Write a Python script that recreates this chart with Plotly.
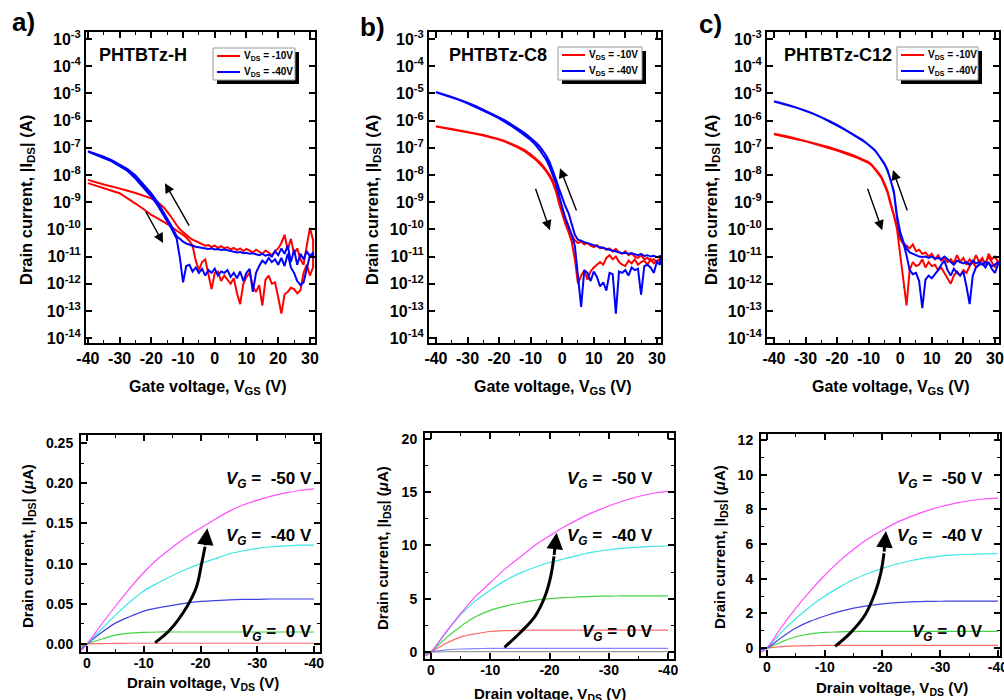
import plotly.graph_objects as go

FONT = "Liberation Sans"
W, H = 1004, 700

# ---- transfer curves (top row): gate voltage grid and log10 |I_DS| (A) ----
vgs = [-40, -37.5, -35, -32.5, -30, -27.5, -25, -22.5, -20, -18, -16, -14,
       -12, -11, -10, -9, -8, -7, -6, -5, -4, -3, -2, -1,
       0, 1, 2, 3, 4, 5, 6, 7, 8, 9, 10, 11, 12, 13, 14, 15,
       16, 17, 18, 19, 20, 21, 22, 23, 24, 25, 26, 27, 28, 29, 30, 31]

# PHTBTz-H
h_red_fwd = [-8.30, -8.40, -8.50, -8.58, -8.67, -8.85, -9.05, -9.25, -9.47, -9.60, -9.72, -9.87,
             -10.05, -10.12, -10.20, -10.30, -10.42, -10.60, -11.15, -11.50, -11.20, -11.10, -11.70, -12.20,
             -11.60, -11.55, -11.90, -11.70, -11.85, -12.00, -11.80, -12.35, -12.75, -12.00, -11.75, -11.60, -12.10, -12.30, -12.05, -12.80,
             -11.85, -11.70, -12.00, -11.95, -12.50, -13.10, -12.40, -12.30, -12.15, -12.20, -12.35, -12.25, -11.60, -11.30, -11.70, -11.40]
h_red_rev = [-8.18, -8.27, -8.35, -8.42, -8.49, -8.58, -8.66, -8.75, -8.86, -9.00, -9.20, -9.50,
             -9.85, -10.00, -10.10, -10.20, -10.30, -10.38, -10.45, -10.50, -10.55, -10.60, -10.58, -10.65,
             -10.60, -10.68, -10.62, -10.70, -10.65, -10.74, -10.68, -10.76, -10.70, -10.80, -10.72, -10.78, -10.85, -10.75, -10.82, -10.90,
             -10.78, -10.85, -10.95, -10.80, -10.70, -10.50, -10.20, -10.75, -10.35, -10.90, -10.70, -11.10, -11.30, -10.60, -9.95, -10.40]
h_blue_fwd = [-7.14, -7.25, -7.38, -7.50, -7.66, -7.85, -8.13, -8.45, -8.80, -9.12, -9.50, -9.90,
              -10.35, -11.05, -11.95, -11.35, -11.30, -11.55, -11.40, -11.60, -11.45, -11.70, -11.50, -11.60,
              -11.45, -11.70, -11.55, -11.60, -11.50, -11.75, -11.60, -11.80, -11.55, -11.90, -11.60, -11.45, -12.30, -11.60, -11.35, -11.15,
              -11.25, -11.05, -11.20, -11.10, -11.30, -11.05, -11.35, -10.90, -11.40, -11.60, -11.90, -12.05, -11.95, -11.40, -10.95, -11.05]
h_blue_rev = [-7.12, -7.22, -7.33, -7.45, -7.60, -7.78, -8.02, -8.33, -8.68, -9.00, -9.38, -9.80,
              -10.25, -10.35, -10.45, -10.52, -10.57, -10.60, -10.64, -10.66, -10.70, -10.70, -10.72, -10.70,
              -10.74, -10.72, -10.76, -10.74, -10.78, -10.80, -10.82, -10.85, -10.83, -10.88, -10.86, -10.90, -10.88, -10.92, -10.95, -10.90,
              -10.97, -10.93, -11.00, -10.80, -10.95, -10.70, -10.90, -10.60, -11.20, -10.75, -11.30, -10.90, -11.10, -10.80, -11.00, -10.85]

# PHTBTz-C8
c8_red_fwd = [-6.22, -6.27, -6.32, -6.37, -6.42, -6.48, -6.55, -6.62, -6.70, -6.78, -6.88, -6.99,
              -7.12, -7.20, -7.29, -7.38, -7.48, -7.60, -7.73, -7.88, -8.05, -8.28, -8.60, -9.05,
              -9.45, -9.80, -10.10, -10.45, -11.10, -12.00, -11.70, -11.50, -11.85, -11.55, -11.40, -11.30, -11.20, -11.30, -11.05, -10.95,
              -11.10, -11.00, -11.20, -11.30, -11.35, -11.15, -11.25, -11.10, -11.30, -11.20, -11.15, -11.30, -11.10, -11.25, -11.15, -11.10]
c8_red_rev = [-6.21, -6.26, -6.31, -6.36, -6.41, -6.47, -6.53, -6.60, -6.68, -6.76, -6.85, -6.96,
              -7.08, -7.16, -7.24, -7.33, -7.43, -7.54, -7.67, -7.82, -8.00, -8.20, -8.48, -8.85,
              -9.25, -9.60, -9.90, -10.20, -10.40, -10.50, -10.45, -10.55, -10.50, -10.60, -10.65, -10.58, -10.70, -10.66, -10.75, -10.70,
              -10.82, -10.72, -10.85, -10.90, -10.80, -10.95, -10.88, -11.00, -11.05, -10.95, -11.10, -11.05, -11.15, -11.10, -11.20, -11.10]
c8_blue_fwd = [-4.96, -5.05, -5.14, -5.24, -5.36, -5.49, -5.63, -5.77, -5.92, -6.05, -6.20, -6.36,
               -6.53, -6.62, -6.71, -6.82, -6.95, -7.10, -7.28, -7.45, -7.70, -8.00, -8.30, -8.75,
               -9.20, -9.60, -9.90, -10.20, -10.60, -11.80, -12.85, -11.50, -11.60, -11.90, -11.55, -11.75, -12.10, -11.95, -12.25, -11.60,
               -11.65, -13.10, -11.55, -11.60, -11.50, -11.70, -11.40, -11.50, -11.45, -12.40, -11.35, -11.30, -11.40, -11.60, -11.20, -11.30]
c8_blue_rev = [-4.95, -5.04, -5.13, -5.23, -5.34, -5.46, -5.59, -5.73, -5.88, -6.00, -6.14, -6.29,
               -6.45, -6.54, -6.63, -6.73, -6.84, -6.97, -7.12, -7.30, -7.52, -7.80, -8.15, -8.50,
               -8.85, -9.15, -9.40, -9.75, -10.20, -10.38, -10.42, -10.47, -10.50, -10.55, -10.58, -10.62, -10.65, -10.70, -10.72, -10.76,
               -10.78, -10.82, -10.85, -10.88, -10.86, -10.90, -10.88, -10.92, -10.95, -10.90, -10.98, -10.95, -11.00, -10.97, -11.02, -10.98]

# PHTBTz-C12
c12_red_fwd = [-6.50, -6.56, -6.62, -6.69, -6.76, -6.84, -6.92, -7.00, -7.10, -7.18, -7.26, -7.35,
               -7.45, -7.50, -7.56, -7.65, -7.78, -7.94, -8.10, -8.35, -8.65, -9.10, -9.50, -10.00,
               -10.90, -11.70, -12.80, -11.50, -11.20, -11.35, -11.30, -11.10, -11.40, -11.20, -11.35, -11.30, -11.50, -11.40, -11.60, -11.75,
               -12.00, -11.70, -11.55, -11.70, -11.50, -11.60, -11.35, -11.20, -11.40, -11.30, -11.10, -11.25, -11.00, -11.20, -11.40, -11.15]
c12_red_rev = [-6.48, -6.54, -6.60, -6.67, -6.74, -6.82, -6.90, -6.98, -7.07, -7.15, -7.23, -7.32,
               -7.42, -7.47, -7.53, -7.62, -7.74, -7.90, -8.06, -8.30, -8.60, -9.02, -9.42, -9.90,
               -10.35, -10.55, -10.60, -10.70, -10.55, -10.80, -10.75, -10.90, -10.85, -11.00, -10.90, -11.10, -10.95, -11.15, -11.05, -11.20,
               -11.10, -11.25, -10.95, -11.20, -11.05, -11.30, -11.10, -11.25, -10.95, -11.20, -11.05, -11.30, -10.90, -11.10, -11.00, -11.20]
c12_blue_fwd = [-5.30, -5.37, -5.45, -5.54, -5.64, -5.75, -5.88, -6.02, -6.17, -6.30, -6.44, -6.58,
                -6.72, -6.80, -6.90, -7.00, -7.10, -7.25, -7.42, -7.60, -7.85, -8.20, -8.65, -9.60,
                -10.20, -10.50, -10.95, -11.50, -11.65, -11.60, -11.90, -12.90, -11.85, -11.70, -11.80, -11.65, -11.50, -11.30, -11.15, -11.50,
                -11.70, -11.45, -11.60, -11.70, -11.55, -12.10, -12.75, -11.70, -11.40, -11.30, -11.25, -11.40, -11.20, -11.45, -11.60, -11.30]
c12_blue_rev = [-5.29, -5.36, -5.44, -5.53, -5.63, -5.74, -5.87, -6.01, -6.16, -6.29, -6.43, -6.57,
                -6.71, -6.79, -6.89, -6.99, -7.09, -7.24, -7.41, -7.58, -7.82, -8.16, -8.60, -9.50,
                -10.10, -10.45, -10.70, -10.85, -10.90, -10.95, -11.00, -11.02, -11.00, -11.05, -11.00, -11.08, -11.05, -11.10, -11.00, -11.10,
                -11.20, -11.30, -11.15, -11.20, -11.25, -11.20, -11.30, -11.15, -11.25, -11.20, -11.30, -11.20, -11.25, -11.35, -11.30, -11.20]

# ---- output curves (bottom row): drain voltage grid and |I_DS| (uA) ----
vds = [1, 0, -2.5, -5, -7.5, -10, -12.5, -15, -17.5, -20, -22.5, -25, -27.5, -30, -32.5, -35, -37.5, -40]

h_out = {
    "red": [-0.002, 0, 0.0005, 0.0008, 0.001, 0.001, 0.001, 0.001, 0.001, 0.001, 0.001, 0.001, 0.001, 0.001, 0.001, 0.001, 0.001, 0.001],
    "green": [-0.004, 0, 0.006, 0.011, 0.0135, 0.0145, 0.015, 0.015, 0.015, 0.015, 0.015, 0.015, 0.015, 0.015, 0.015, 0.015, 0.015, 0.015],
    "blue": [-0.006, 0, 0.014, 0.026, 0.034, 0.041, 0.045, 0.048, 0.051, 0.053, 0.054, 0.055, 0.0555, 0.0555, 0.056, 0.056, 0.056, 0.056],
    "cyan": [-0.007, 0, 0.018, 0.036, 0.052, 0.066, 0.076, 0.085, 0.093, 0.100, 0.106, 0.112, 0.116, 0.119, 0.121, 0.122, 0.123, 0.123],
    "magenta": [-0.008, 0, 0.024, 0.047, 0.069, 0.089, 0.106, 0.120, 0.133, 0.144, 0.155, 0.165, 0.173, 0.179, 0.184, 0.188, 0.191, 0.193],
}
c8_out = {
    "gray": [-0.02, 0, 0.02, 0.03, 0.03, 0.03, 0.03, 0.03, 0.03, 0.03, 0.03, 0.03, 0.03, 0.03, 0.03, 0.03, 0.03, 0.03],
    "lightblue": [-0.05, 0, 0.20, 0.28, 0.32, 0.33, 0.34, 0.34, 0.34, 0.34, 0.34, 0.34, 0.34, 0.34, 0.34, 0.34, 0.34, 0.34],
    "red": [-0.1, 0, 0.8, 1.4, 1.7, 1.92, 2.0, 2.03, 2.05, 2.05, 2.05, 2.05, 2.05, 2.05, 2.05, 2.05, 2.05, 2.05],
    "green": [-0.2, 0, 1.3, 2.4, 3.3, 3.9, 4.3, 4.6, 4.85, 5.0, 5.1, 5.17, 5.22, 5.25, 5.26, 5.27, 5.27, 5.27],
    "cyan": [-0.3, 0, 1.8, 3.5, 4.8, 5.8, 6.7, 7.4, 7.95, 8.4, 8.75, 9.1, 9.4, 9.6, 9.75, 9.85, 9.92, 9.95],
    "magenta": [-0.4, 0, 1.85, 3.6, 5.2, 6.5, 7.8, 8.9, 10.0, 10.9, 11.75, 12.5, 13.15, 13.7, 14.2, 14.6, 14.9, 15.1],
}
c12_out = {
    "red": [-0.02, 0, 0.08, 0.12, 0.14, 0.15, 0.15, 0.15, 0.15, 0.15, 0.15, 0.15, 0.15, 0.15, 0.15, 0.15, 0.15, 0.15],
    "green": [-0.05, 0, 0.35, 0.65, 0.82, 0.90, 0.93, 0.95, 0.96, 0.96, 0.96, 0.96, 0.96, 0.96, 0.96, 0.96, 0.96, 0.96],
    "blue": [-0.1, 0, 0.6, 1.15, 1.55, 1.85, 2.1, 2.3, 2.45, 2.55, 2.62, 2.66, 2.69, 2.7, 2.71, 2.71, 2.71, 2.71],
    "cyan": [-0.2, 0, 0.9, 1.7, 2.4, 3.0, 3.5, 3.95, 4.3, 4.6, 4.85, 5.05, 5.2, 5.3, 5.37, 5.41, 5.43, 5.44],
    "magenta": [-0.25, 0, 1.2, 2.3, 3.3, 4.2, 5.0, 5.7, 6.3, 6.8, 7.25, 7.6, 7.9, 8.15, 8.35, 8.5, 8.6, 8.65],
}

# curved "increasing V_G" arrows in the output panels (V_DS, I_DS) and their tips
h_arrow_v = [-12.0, -14.6, -17.6, -19.3, -20.2, -20.8]
h_arrow_i = [0.0017, 0.0174, 0.0464, 0.0712, 0.100, 0.121]
h_arrow_tip = (-21.2, 0.1440)
c8_arrow_v = [-12.4, -15.0, -17.55, -19.24, -20.2, -20.75]
c8_arrow_i = [0.44, 1.78, 3.35, 5.23, 7.1, 8.98]
c8_arrow_tip = (-21.2, 11.2)
c12_arrow_v = [-11.8, -14.4, -17.0, -18.7, -19.7, -20.26]
c12_arrow_i = [0.1, 0.86, 1.92, 3.17, 4.32, 5.47]
c12_arrow_tip = (-20.6, 6.75)

# sweep-direction arrows in the transfer panels: (tail V, tail log I, head V, head log I)
h_sweep = [(-22.0, -9.29, -16.3, -10.5), (-7.8, -9.92, -15.7, -8.3)]
c8_sweep = [(-8.6, -8.45, -3.9, -10.03), (4.7, -9.36, -0.7, -7.75)]
c12_sweep = [(-10.5, -8.45, -5.7, -10.03), (2.4, -9.36, -2.3, -7.82)]

decades = list(range(-3, -15, -1))
names = ["PHTBTz-H", "PHTBTz-C8", "PHTBTz-C12"]
letters = ["a)", "b)", "c)"]
legend_labels = ["V<sub>DS</sub> = -10V", "V<sub>DS</sub> = -40V"]


def px(x):
    return x / W


def py(y):
    return 1 - y / H


fig = go.Figure()

top_sets = [
    (h_red_fwd, h_red_rev, h_blue_fwd, h_blue_rev),
    (c8_red_fwd, c8_red_rev, c8_blue_fwd, c8_blue_rev),
    (c12_red_fwd, c12_red_rev, c12_blue_fwd, c12_blue_rev),
]
for k, (rf, rr, bf, br) in enumerate(top_sets):
    xa, ya = f"x{k + 1}", f"y{k + 1}"
    loop_x = vgs + vgs[::-1]
    for label, fwd, rev, color in [(legend_labels[0], rf, rr, "#ff0000"),
                                   (legend_labels[1], bf, br, "#0000ff")]:
        fig.add_trace(go.Scatter(
            x=loop_x, y=[10 ** v for v in fwd + rev[::-1]],
            mode="lines", line=dict(color=color, width=2),
            name=label, showlegend=False, xaxis=xa, yaxis=ya))

out_colors = {"gray": "#888888", "red": "#ff5050", "green": "#22cc22", "blue": "#2020dd",
              "lightblue": "#7070ff", "cyan": "#20e0e0", "magenta": "#ff30ff"}
bottom_sets = [(h_out, h_arrow_v, h_arrow_i, h_arrow_tip),
               (c8_out, c8_arrow_v, c8_arrow_i, c8_arrow_tip),
               (c12_out, c12_arrow_v, c12_arrow_i, c12_arrow_tip)]
for k, (curves, av, ai, tip) in enumerate(bottom_sets):
    xa, ya = f"x{k + 4}", f"y{k + 4}"
    for key, vals in curves.items():
        fig.add_trace(go.Scatter(x=vds, y=vals, mode="lines", showlegend=False,
                                 line=dict(color=out_colors[key], width=1.2, shape="spline", smoothing=0.8),
                                 opacity=0.85, xaxis=xa, yaxis=ya))
    fig.add_trace(go.Scatter(x=av, y=ai, mode="lines", showlegend=False,
                             line=dict(color="black", width=3, shape="spline"),
                             xaxis=xa, yaxis=ya))

# ---- axes ----
axis_common = dict(showline=True, linecolor="black", linewidth=2, mirror="ticks",
                   ticks="inside", ticklen=6, tickwidth=1.5, tickcolor="black",
                   showgrid=False, zeroline=False, automargin=False, ticklabeloverflow="allow",
                   tickfont=dict(family=FONT, size=16, color="black", weight="bold"))
minor_common = dict(ticks="inside", ticklen=3, tickcolor="black", tickwidth=1,
                    tickmode="linear", tick0=0, showgrid=False)

top_x_px = [(86, 315), (429, 661), (767, 999)]
top_x_range = [[-40.6, 31.6], [-42.2, 31.3], [-42.2, 31.3]]
bot_x_px = [(81, 320), (425, 674), (761, 1000)]
bot_y_px = [(435, 652), (433, 659), (434, 656)]
bot_x_range = [[1.06, -41.06], [1.01, -41.0], [1.04, -40.35]]
bot_y_range = [[-0.0099, 0.26], [-0.66, 20.56], [-0.46, 12.35]]
bot_y_ticks = [([0, 0.05, 0.10, 0.15, 0.20, 0.25], ["0.00", "0.05", "0.10", "0.15", "0.20", "0.25"], 0.025),
               ([0, 5, 10, 15, 20], ["0", "5", "10", "15", "20"], 2.5),
               ([0, 2, 4, 6, 8, 10, 12], ["0", "2", "4", "6", "8", "10", "12"], 1)]
xt_top = [-40, -30, -20, -10, 0, 10, 20, 30]
xt_bot = [0, -10, -20, -30, -40]

layout = {}
for k in range(3):
    layout[f"xaxis{k + 1}"] = dict(axis_common, domain=[px(top_x_px[k][0]), px(top_x_px[k][1])],
                                   anchor=f"y{k + 1}", range=top_x_range[k],
                                   tickmode="array", tickvals=xt_top, ticktext=[str(v) for v in xt_top],
                                   minor=dict(minor_common, dtick=5))
    layout[f"yaxis{k + 1}"] = dict(axis_common, domain=[py(343), py(32)], anchor=f"x{k + 1}",
                                   type="log", range=[-14.18, -2.74],
                                   tickmode="array", tickvals=[10 ** d for d in decades],
                                   ticktext=[f"10<sup>{d}</sup>" for d in decades])
    bt = dict(axis_common, tickfont=dict(family=FONT, size=14, color="black", weight="bold"))
    layout[f"xaxis{k + 4}"] = dict(bt, domain=[px(bot_x_px[k][0]), px(bot_x_px[k][1])],
                                   anchor=f"y{k + 4}", range=bot_x_range[k], ticklabelstandoff=-3,
                                   tickmode="array", tickvals=xt_bot, ticktext=[str(v) for v in xt_bot],
                                   minor=dict(minor_common, dtick=5))
    tv, tt, mdt = bot_y_ticks[k]
    layout[f"yaxis{k + 4}"] = dict(bt, domain=[py(bot_y_px[k][1]), py(bot_y_px[k][0])],
                                   anchor=f"x{k + 4}", range=bot_y_range[k], ticklabelstandoff=3,
                                   tickmode="array", tickvals=tv, ticktext=tt,
                                   minor=dict(minor_common, dtick=mdt))

# ---- boxed legends with drop shadow (one per transfer panel) ----
ann = []
shapes = []
legend_box = [(213, 48, 295, 80), (558, 47, 642, 80), (897, 47, 978, 80)]
for (x0, y0, x1, y1) in legend_box:
    shapes.append(dict(type="rect", xref="paper", yref="paper", layer="above",
                       x0=px(x0 + 4), x1=px(x1 + 4), y0=py(y1 + 4), y1=py(y0 + 4),
                       fillcolor="black", line=dict(width=0)))
    shapes.append(dict(type="rect", xref="paper", yref="paper", layer="above",
                       x0=px(x0), x1=px(x1), y0=py(y1), y1=py(y0),
                       fillcolor="white", line=dict(color="#999999", width=1)))
    for dy, color, lab in [(8, "#ff0000", legend_labels[0]), (24, "#0000ff", legend_labels[1])]:
        shapes.append(dict(type="line", xref="paper", yref="paper", layer="above",
                           x0=px(x0 + 4), x1=px(x0 + 27), y0=py(y0 + dy), y1=py(y0 + dy),
                           line=dict(color=color, width=2)))
        ann.append(dict(x=px(x0 + 29), y=py(y0 + dy), xref="paper", yref="paper", text=lab,
                        showarrow=False, xanchor="left", yanchor="middle",
                        font=dict(family=FONT, size=10, color="black", weight="bold")))


# ---- annotations ----
def text(x, y, s, size, angle=0, xanchor="center"):
    ann.append(dict(x=px(x), y=py(y), xref="paper", yref="paper", text=s, showarrow=False,
                    xanchor=xanchor, yanchor="middle", textangle=angle,
                    font=dict(family=FONT, size=size, color="black", weight="bold")))


for (x, y), s in zip([(23, 22), (372, 27), (710, 24)], letters):
    text(x, y, s, 26)
for x, s in zip([97, 447, 782], names):
    text(x, 55, s, 18, xanchor="left")
for x in [27, 373, 712]:
    text(x, 200, "Drain current, |I<sub>DS</sub>| (A)", 16.5, angle=-90)
for x in [208, 553, 891]:
    text(x, 387, "Gate voltage, V<sub>GS</sub> (V)", 16)
for x, y in [(28, 546), (383, 548), (720, 547)]:
    text(x, y, "Drain current, |I<sub>DS</sub>| (<i>\u03bc</i>A)", 15, angle=-90)
for x, y in [(203, 683), (550, 694), (892, 688)]:
    text(x, y, "Drain voltage, V<sub>DS</sub> (V)", 15)
for x in [314, 655, 985]:
    for y, s in [(480, "-50 V"), (537, "-40 V"), (633, "0 V")]:
        text(x, y, "<i>V<sub>G</sub></i> =\u00a0 " + s, 17, xanchor="right")

for k, sweeps in enumerate([h_sweep, c8_sweep, c12_sweep]):
    for tx, ty, hx, hy in sweeps:
        ann.append(dict(x=hx, y=hy, ax=tx, ay=ty, xref=f"x{k + 1}", yref=f"y{k + 1}",
                        axref=f"x{k + 1}", ayref=f"y{k + 1}", showarrow=True, text="",
                        arrowhead=2, arrowsize=1.4, arrowwidth=1.4, arrowcolor="black"))
for k, (curves, av, ai, tip) in enumerate(bottom_sets):
    ann.append(dict(x=tip[0], y=tip[1], ax=av[-1], ay=ai[-1], xref=f"x{k + 4}", yref=f"y{k + 4}",
                    axref=f"x{k + 4}", ayref=f"y{k + 4}", showarrow=True, text="",
                    arrowhead=2, arrowsize=1.1, arrowwidth=3, arrowcolor="black"))

fig.update_layout(width=W, height=H, margin=dict(l=0, r=0, t=0, b=0),
                  paper_bgcolor="white", plot_bgcolor="white", showlegend=False,
                  font=dict(family=FONT, color="black"),
                  annotations=ann, shapes=shapes, **layout)

fig.write_html("out.html", config={"displayModeBar": False},
               post_script="document.body.style.margin = '0px';")
